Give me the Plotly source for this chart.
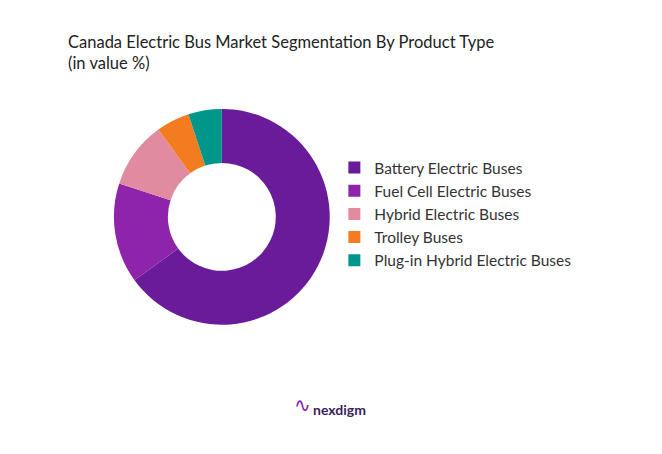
import plotly.graph_objects as go

labels = ["Battery Electric Buses", "Fuel Cell Electric Buses", "Hybrid Electric Buses",
          "Trolley Buses", "Plug-in Hybrid Electric Buses"]
values = [65, 15, 10, 5, 5]
colors = ["#6A1B9A", "#8E24AA", "#E08BA0", "#F47C20", "#00978A"]

fig = go.Figure(go.Pie(
    labels=labels, values=values, hole=0.5, sort=False, direction="clockwise",
    rotation=0, marker=dict(colors=colors), textinfo="none", hoverinfo="label+percent",
    domain=dict(x=[0.16, 0.486], y=[0.302, 0.778]),
))

fig.update_layout(
    width=662, height=454, paper_bgcolor="white", plot_bgcolor="white",
    margin=dict(l=0, r=0, t=0, b=0),
    font=dict(family="Lato, Noto Sans, sans-serif", color="#333333"),
    title=dict(text="Canada Electric Bus Market Segmentation By Product Type<br>(in value %)",
               x=60 / 662, y=1 - 40 / 454, xanchor="left", yanchor="top",
               font=dict(size=16.5, color="#222222")),
    legend=dict(x=0.493, y=1 - 206 / 454, xanchor="left", yanchor="middle",
                font=dict(size=15.5, color="#333333"), tracegroupgap=0,
                itemwidth=30, traceorder="normal"),
    annotations=[dict(text="<b>nexdigm</b>", x=0.5, y=1 - 412 / 454, xref="paper", yref="paper",
                      showarrow=False, font=dict(size=14, color="#3a1d5c"))],
)
fig.add_annotation(text="∿", x=0.445, y=1 - 410 / 454, xref="paper", yref="paper",
                   showarrow=False, font=dict(size=20, color="#8E24AA"))

fig.write_html("out.html")
